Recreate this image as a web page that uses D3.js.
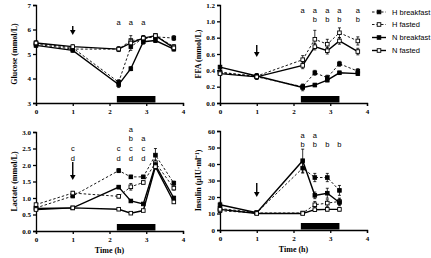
<!DOCTYPE html>
<meta charset="utf-8">
<style>
body { margin: 0; background: #fff; }
text { fill: #000; }
.tick text { font-family: "Liberation Serif", serif; font-weight: bold; font-size: 7px; fill: #000; }
.ylab, .xlab { font-family: "Liberation Serif", serif; font-weight: bold; font-size: 8px; }
.ann, .leg { font-family: "Liberation Sans", Arial, sans-serif; font-size: 7.5px; }
</style>
<script src="https://d3js.org/d3.v7.min.js"></script>
<div id="chart"></div>
<script>
var times = [0, 1, 2.25, 2.58, 2.92, 3.25, 3.75];
var seriesNames = ["H breakfast", "H fasted", "N breakfast", "N fasted"];

// glucose (mmol/L)
var gluHB = [5.45, 5.25, 3.85, 5.3, 5.65, 5.7, 5.65];
var gluHF = [5.4, 5.2, 5.2, 5.55, 5.6, 5.75, 5.3];
var gluNB = [5.35, 5.15, 3.75, 4.4, 5.5, 5.55, 5.2];
var gluNF = [5.45, 5.3, 5.2, 5.45, 5.65, 5.75, 5.25];
var gluHBe = [0.08, 0.08, 0.1, 0.15, 0.1, 0.08, 0.1];
var gluHFe = [0.08, 0.08, 0.1, 0.2, 0.12, 0.08, 0.08];
var gluNBe = [0.08, 0.08, 0.12, 0.08, 0.1, 0.08, 0.08];
var gluNFe = [0.08, 0.08, 0.08, 0.15, 0.1, 0.08, 0.08];

// FFA (mmol/L)
var ffaHB = [0.38, 0.32, 0.2, 0.37, 0.31, 0.48, 0.39];
var ffaHF = [0.37, 0.33, 0.53, 0.78, 0.72, 0.86, 0.76];
var ffaNB = [0.44, 0.33, 0.19, 0.22, 0.28, 0.37, 0.36];
var ffaNF = [0.36, 0.32, 0.46, 0.69, 0.64, 0.76, 0.63];
var ffaHBe = [0.02, 0.03, 0.03, 0.03, 0.03, 0.03, 0.03];
var ffaHFe = [0.02, 0.03, 0.05, 0.11, 0.06, 0.06, 0.05];
var ffaNBe = [0.02, 0.03, 0.04, 0.02, 0.02, 0.02, 0.02];
var ffaNFe = [0.02, 0.03, 0.04, 0.04, 0.04, 0.04, 0.04];

// lactate (mmol/L)
var lacHB = [0.7, 1.06, 1.83, 1.64, 1.64, 2.3, 1.45];
var lacHF = [0.8, 1.15, 1.05, 1.34, 1.47, 2.07, 1.3];
var lacNB = [0.68, 0.7, 1.33, 0.91, 0.82, 2.0, 1.0];
var lacNF = [0.65, 0.7, 0.66, 0.54, 0.62, 1.95, 0.88];
var lacHBe = [0.04, 0.05, 0.06, 0.05, 0.05, 0.2, 0.06];
var lacHFe = [0.04, 0.05, 0.05, 0.1, 0.05, 0.08, 0.06];
var lacNBe = [0.03, 0.03, 0.05, 0.04, 0.03, 0.08, 0.05];
var lacNFe = [0.03, 0.03, 0.03, 0.03, 0.03, 0.08, 0.04];

// insulin (uIU/ml), no sample at 3.75 h
var insHB = [13, 10.5, 37.5, 31.8, 31.8, 24, null];
var insHF = [11.7, 10.3, 10.3, 15.3, 16.3, 17.3, null];
var insNB = [15.3, 10.5, 42, 21, 22.3, 16.7, null];
var insNF = [12.5, 10, 10, 12.3, 12.5, 12.5, null];
var insHBe = [1, 0.5, 3, 2.5, 2.5, 3, 0];
var insHFe = [1, 0.5, 0.5, 2, 2, 2, 0];
var insNBe = [1.5, 0.5, 7, 2, 3, 2, 0];
var insNFe = [1, 0.5, 0.5, 1, 1, 1, 0];

// significance letters: [time, first row, letters]
var gluAnn = [[2.25, 0, "a"], [2.58, 0, "a"], [2.92, 0, "a"]];
var ffaAnn = [[2.25, 0, "a"], [2.58, 0, "ab"], [2.92, 0, "ab"], [3.25, 0, "ab"], [3.75, 0, "ab"]];
var lacAnn = [[1, 2, "cd"], [2.25, 2, "cd"], [2.58, 0, "abcd"], [2.92, 1, "acd"]];
var insAnn = [[2.25, 0, "ab"], [2.58, 0, "ab"], [2.92, 1, "b"], [3.25, 1, "b"]];

var xTicks = [0, 1, 2, 3, 4];
var mealStart = 2.2, mealEnd = 3.25;

var svg = d3.select("#chart").append("svg")
  .attr("width", 431).attr("height", 258);

var panels = [
  {vals: [gluHB, gluHF, gluNB, gluNF], errs: [gluHBe, gluHFe, gluNBe, gluNFe],
   dom: [3, 7], ticks: [3, 4, 5, 6, 7], fmt: d3.format("d"), label: "Glucose (mmol/L)",
   xr: [36, 183], yr: [103, 5], ann: gluAnn, annY: 22, arrow: [26, 35], time: false},
  {vals: [ffaHB, ffaHF, ffaNB, ffaNF], errs: [ffaHBe, ffaHFe, ffaNBe, ffaNFe],
   dom: [0, 1.2], ticks: d3.range(0, 1.21, 0.2), fmt: d3.format(".1f"), label: "FFA (mmol/L)",
   xr: [220, 367], yr: [103, 5], ann: ffaAnn, annY: 10, arrow: [45, 57], time: false},
  {vals: [lacHB, lacHF, lacNB, lacNF], errs: [lacHBe, lacHFe, lacNBe, lacNFe],
   dom: [0, 3], ticks: d3.range(0, 3.01, 0.5), fmt: d3.format(".1f"), label: "Lactate (mmol/L)",
   xr: [36, 183], yr: [231, 132], ann: lacAnn, annY: 129, arrow: [162, 180], time: true},
  {vals: [insHB, insHF, insNB, insNF], errs: [insHBe, insHFe, insNBe, insNFe],
   dom: [0, 60], ticks: d3.range(0, 61, 10), fmt: d3.format("d"), label: "Insulin (\u03BCIU\u00B7ml\u207B\u00B9)",
   xr: [220, 367], yr: [230, 131], ann: insAnn, annY: 135, arrow: [183, 197], time: true}
];

var dashed = [true, true, false, false];
var filled = [true, false, true, false];

function drawMarker(g, x, y, i) {
  g.append("rect")
    .attr("x", x - 1.8).attr("y", y - 1.8)
    .attr("width", 3.6).attr("height", 3.6)
    .attr("fill", filled[i] ? "#000" : "#fff")
    .attr("stroke", "#000").attr("stroke-width", 0.9);
}

panels.forEach(function(p) {
  var x = d3.scaleLinear().domain([0, 4]).range(p.xr);
  var y = d3.scaleLinear().domain(p.dom).range(p.yr);
  var g = svg.append("g");

  g.append("g")
    .attr("transform", "translate(0," + p.yr[0] + ")")
    .call(d3.axisBottom(x).tickValues(xTicks).tickSize(3).tickPadding(3).tickFormat(d3.format("d")))
    .call(function(a) { a.select(".domain").attr("stroke-width", 1.3); a.selectAll("line").attr("stroke-width", 1.3); });

  g.append("g")
    .attr("transform", "translate(" + p.xr[0] + ",0)")
    .call(d3.axisLeft(y).tickValues(p.ticks).tickSize(3).tickPadding(2).tickFormat(p.fmt))
    .call(function(a) { a.select(".domain").attr("stroke-width", 1.3); a.selectAll("line").attr("stroke-width", 1.3); });

  g.append("text").attr("class", "ylab")
    .attr("transform", "translate(" + (p.xr[0] - 19) + "," + ((p.yr[0] + p.yr[1]) / 2) + ") rotate(-90)")
    .attr("text-anchor", "middle")
    .text(p.label);

  if (p.time) {
    g.append("text").attr("class", "xlab")
      .attr("x", (p.xr[0] + p.xr[1]) / 2).attr("y", p.yr[0] + 22)
      .attr("text-anchor", "middle")
      .text("Time (h)");
  }

  // meal bar
  g.append("rect")
    .attr("x", x(mealStart)).attr("y", p.yr[0] - 7)
    .attr("width", x(mealEnd) - x(mealStart)).attr("height", 6.5)
    .attr("fill", "#000");

  // arrow at 1 h
  g.append("line")
    .attr("x1", x(1)).attr("x2", x(1))
    .attr("y1", p.arrow[0]).attr("y2", p.arrow[1] - 3)
    .attr("stroke", "#000").attr("stroke-width", 1.4);
  g.append("path")
    .attr("d", "M" + (x(1) - 2.8) + "," + (p.arrow[1] - 5) + "L" + (x(1) + 2.8) + "," + (p.arrow[1] - 5) + "L" + x(1) + "," + p.arrow[1] + "Z")
    .attr("fill", "#000");

  // letters
  p.ann.forEach(function(a) {
    a[2].split("").forEach(function(ch, k) {
      g.append("text").attr("class", "ann")
        .attr("x", x(a[0])).attr("y", p.annY + (a[1] + k) * 9.8)
        .attr("text-anchor", "middle").attr("dominant-baseline", "central")
        .attr("fill", "#000")
        .text(ch);
    });
  });

  p.vals.forEach(function(vals, i) {
    var pts = times.map(function(t, j) { return {t: t, v: vals[j], e: p.errs[i][j]}; })
      .filter(function(d) { return d.v != null; });

    g.append("path")
      .datum(pts)
      .attr("fill", "none").attr("stroke", "#000")
      .attr("stroke-width", dashed[i] ? 0.9 : 1.4)
      .attr("stroke-dasharray", dashed[i] ? "2.5,2" : null)
      .attr("d", d3.line().x(function(d) { return x(d.t); }).y(function(d) { return y(d.v); }));

    pts.forEach(function(d) {
      var y0 = y(d.v - d.e), y1 = y(d.v + d.e);
      g.append("line").attr("x1", x(d.t)).attr("x2", x(d.t)).attr("y1", y0).attr("y2", y1)
        .attr("stroke", "#000").attr("stroke-width", 0.8);
      [y0, y1].forEach(function(yy) {
        g.append("line").attr("x1", x(d.t) - 1.5).attr("x2", x(d.t) + 1.5).attr("y1", yy).attr("y2", yy)
          .attr("stroke", "#000").attr("stroke-width", 0.8);
      });
    });
    pts.forEach(function(d) { drawMarker(g, x(d.t), y(d.v), i); });
  });
});

// legend
var legY = [12, 24.5, 37.5, 50.5];
seriesNames.forEach(function(name, i) {
  var lg = svg.append("g");
  lg.append("line")
    .attr("x1", 372).attr("x2", 386).attr("y1", legY[i]).attr("y2", legY[i])
    .attr("stroke", "#000").attr("stroke-width", dashed[i] ? 0.9 : 1.4)
    .attr("stroke-dasharray", dashed[i] ? "2.5,2" : null);
  drawMarker(lg, 379, legY[i], i);
  lg.append("text").attr("class", "leg")
    .attr("x", 392).attr("y", legY[i])
    .attr("dominant-baseline", "central")
    .attr("fill", "#000")
    .text(name);
});
</script>
